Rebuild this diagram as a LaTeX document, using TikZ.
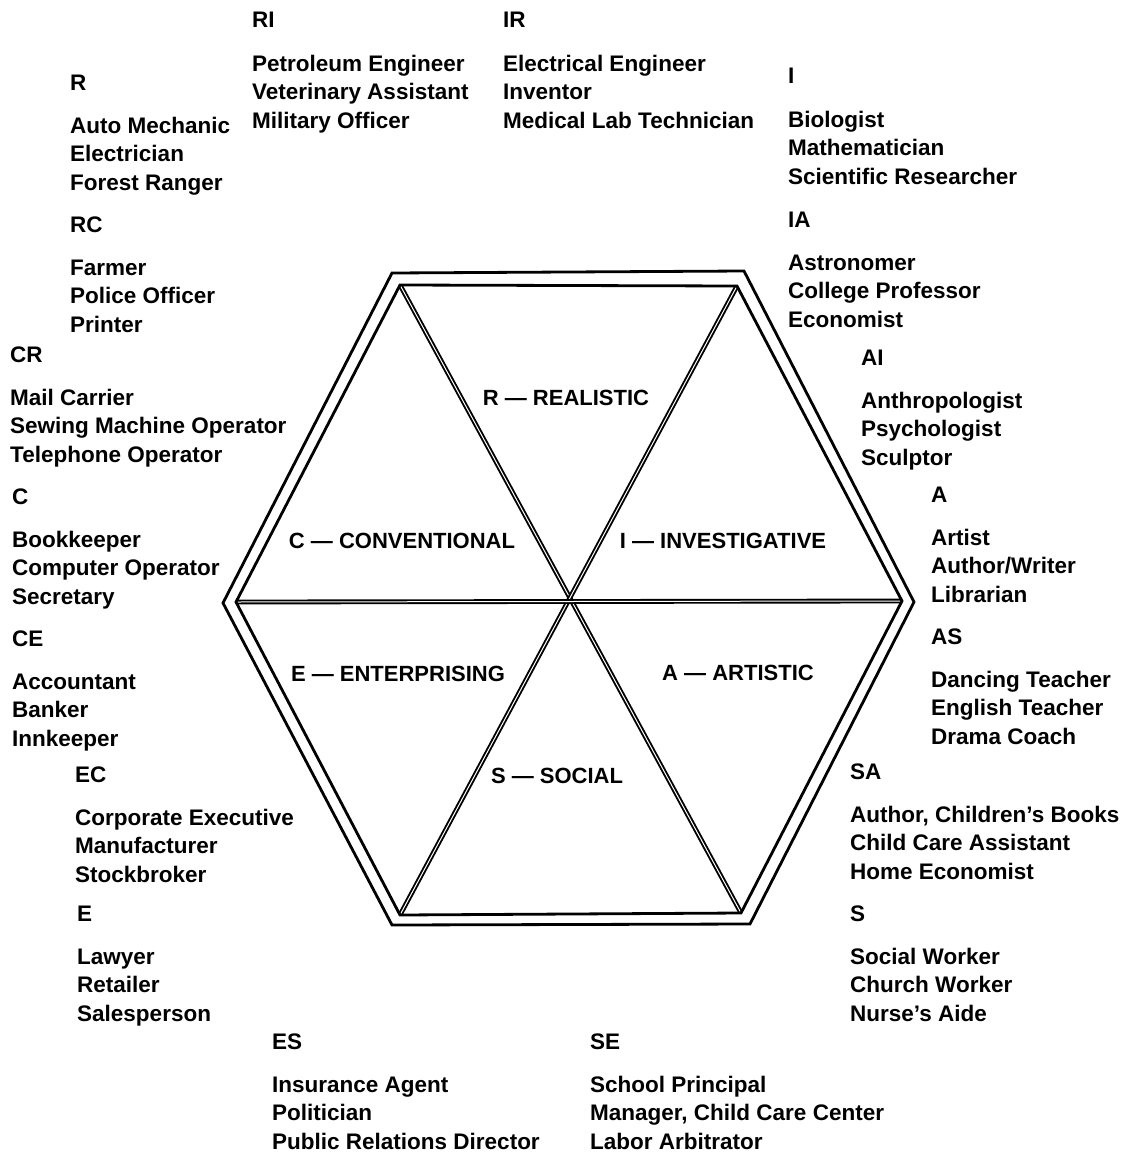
\documentclass[tikz,border=0pt]{standalone}
\usepackage{fontspec}
\setmainfont{Liberation Sans}
\newcommand{\grp}[7]{%
  \node[txt] (#1h) at ({#2},{#3+8}) {#4};
  \node[txt] (#1a) at ({#2},{#3+51}) {#5};
  \node[txt] (#1b) at ({#2},{#3+79.5}) {#6};
  \node[txt] (#1c) at ({#2},{#3+108}) {#7};
}
\begin{document}
\begin{tikzpicture}[x=1pt,y=-1pt,
  txt/.style={anchor=base west, inner sep=0pt, font=\fontsize{22.5}{27}\bfseries},
  cat/.style={anchor=base, inner sep=0pt, font=\fontsize{22}{27}\bfseries},
  hexline/.style={line width=2.8pt, line join=miter},
  spoke/.style={double, double distance=1.0pt, line width=1.9pt}]
\useasboundingbox (0,0) rectangle (1129,1156);

% hexagon vertices
\coordinate (o1) at (392,273);
\coordinate (o2) at (744,271);
\coordinate (o3) at (914,602);
\coordinate (o4) at (750,924);
\coordinate (o5) at (392,925);
\coordinate (o6) at (223,603);
\coordinate (i1) at (400,285);
\coordinate (i2) at (737,286);
\coordinate (i3) at (902,601);
\coordinate (i4) at (741,913);
\coordinate (i5) at (400,915);
\coordinate (i6) at (236,602);

% spokes
\draw[spoke] (i1) -- (i4);
\draw[spoke] (i2) -- (i5);
\draw[spoke] (i6) -- (i3);

% double hexagon
\draw[hexline] (o1) -- (o2) -- (o3) -- (o4) -- (o5) -- (o6) -- cycle;
\draw[hexline] (i1) -- (i2) -- (i3) -- (i4) -- (i5) -- (i6) -- cycle;

% category labels
\node[cat] (catR) at (566,405) {R — REALISTIC};
\node[cat] (catC) at (402,548) {C — CONVENTIONAL};
\node[cat] (catI) at (723,548) {I — INVESTIGATIVE};
\node[cat] (catE) at (398,681) {E — ENTERPRISING};
\node[cat] (catA) at (738,680) {A — ARTISTIC};
\node[cat] (catS) at (557,783) {S — SOCIAL};

% occupation groups
\grp{R}{70}{82}{R}{Auto Mechanic}{Electrician}{Forest Ranger}
\grp{RI}{252}{20}{RI}{Petroleum Engineer}{Veterinary Assistant}{Military Officer}
\grp{IR}{503}{20}{IR}{Electrical Engineer}{Inventor}{Medical Lab Technician}
\grp{I}{788}{76}{I}{Biologist}{Mathematician}{Scientific Researcher}
\grp{IA}{788}{219}{IA}{Astronomer}{College Professor}{Economist}
\grp{AI}{861}{357}{AI}{Anthropologist}{Psychologist}{Sculptor}
\grp{A}{931}{494}{A}{Artist}{Author/Writer}{Librarian}
\grp{AS}{931}{636}{AS}{Dancing Teacher}{English Teacher}{Drama Coach}
\grp{SA}{850}{771}{SA}{Author, Children's Books}{Child Care Assistant}{Home Economist}
\grp{S}{850}{913}{S}{Social Worker}{Church Worker}{Nurse's Aide}
\grp{SE}{590}{1041}{SE}{School Principal}{Manager, Child Care Center}{Labor Arbitrator}
\grp{ES}{272}{1041}{ES}{Insurance Agent}{Politician}{Public Relations Director}
\grp{E}{77}{913}{E}{Lawyer}{Retailer}{Salesperson}
\grp{EC}{75}{774}{EC}{Corporate Executive}{Manufacturer}{Stockbroker}
\grp{CE}{12}{638}{CE}{Accountant}{Banker}{Innkeeper}
\grp{C}{12}{496}{C}{Bookkeeper}{Computer Operator}{Secretary}
\grp{CR}{10}{354}{CR}{Mail Carrier}{Sewing Machine Operator}{Telephone Operator}
\grp{RC}{70}{224}{RC}{Farmer}{Police Officer}{Printer}
\end{tikzpicture}
\end{document}
